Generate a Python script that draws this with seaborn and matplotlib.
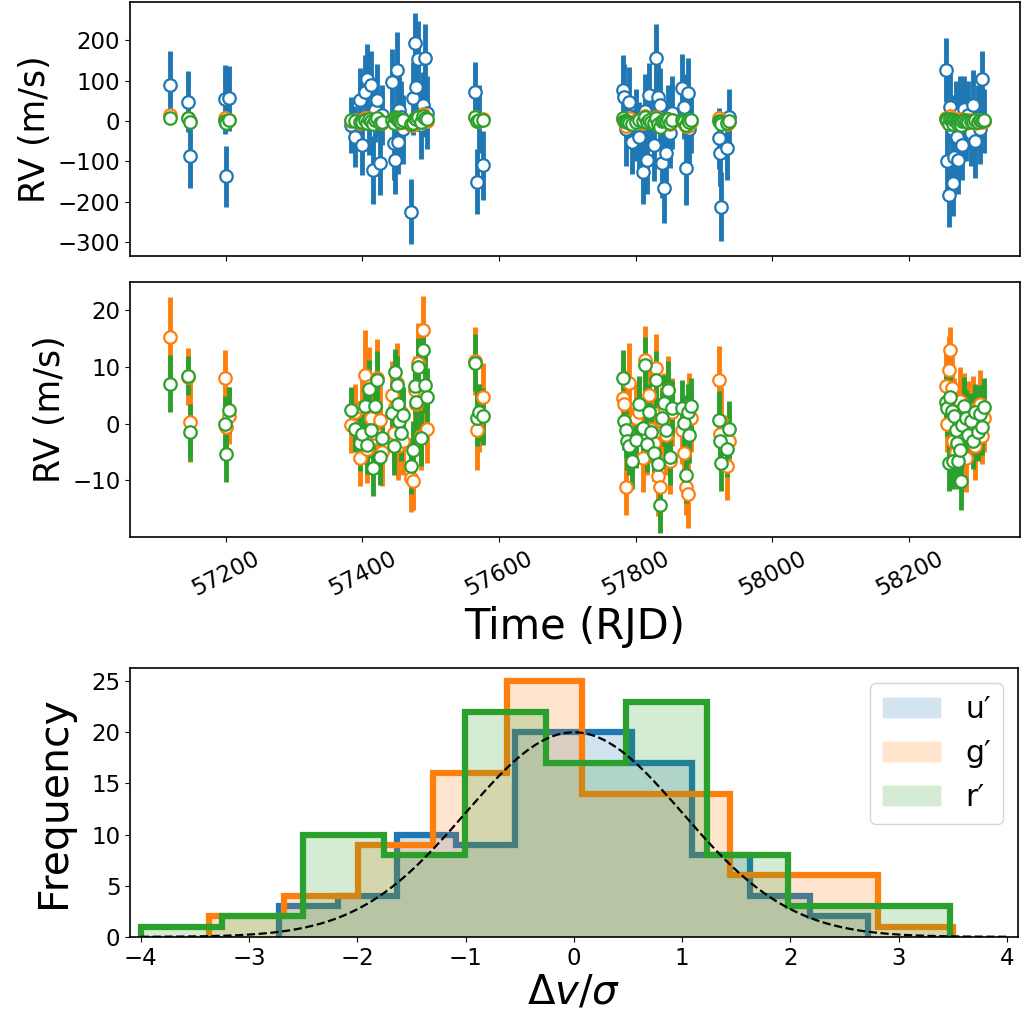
import numpy as np
import pandas as pd
import matplotlib
matplotlib.use("Agg")
import matplotlib.pyplot as plt
from matplotlib.patches import Patch
import seaborn as sns

# ---- RV time series (RJD) ----
rjd = [57118, 57145, 57148, 57199, 57201, 57205,
       57383, 57389, 57397, 57400, 57404, 57406, 57409, 57412, 57416, 57419, 57422, 57425, 57428,
       57444, 57446, 57448, 57450, 57452, 57454, 57456, 57459,
       57471, 57474, 57477, 57479, 57482, 57485, 57488, 57491, 57495,
       57564, 57567, 57570, 57576,
       57781, 57783, 57785, 57787, 57790, 57795, 57800, 57805, 57810, 57813, 57816, 57819, 57822,
       57826, 57829, 57832, 57835, 57838, 57841, 57844, 57847, 57850, 57853,
       57868, 57871, 57874, 57876, 57878, 57881,
       57921, 57923, 57925, 57934, 57937,
       58254, 58256, 58258, 58260, 58262, 58264, 58266, 58268, 58270, 58272, 58274, 58276,
       58278, 58280, 58283, 58286, 58290, 58293, 58296, 58300, 58303, 58306, 58310]

rv_u = [89, 48, -86, 54, -137, 56,
        -10, -39, 52, -59, 72, 105, -5, 89, -121, 27, 52, -104, 15,
        97, -55, -96, 126, -51, 27, 10, -20,
        -224, 56, 192, 83, 152, -10, 40, 155, 20,
        72, -150, 5, -109,
        77, 60, -20, 10, 48, -51, -10, -39, -125, 25, -96, 64, 5,
        -59, 155, 60, 40, -104, -166, -80, 10, -30, 20,
        81, 35, -117, 70, -20, 0,
        -43, -80, -212, -66, 10,
        126, -100, -183, 35, -20, -154, -88, 10, -39, -96, 20, 5,
        -60, 30, -10, 15, -30, 40, -50, 8, -20, 104, 0]

rv_g = [15.4, 8.3, 0.3, 8.0, -0.5, 1.4,
        -0.2, 2.0, -6.0, 3.0, 8.6, -4.5, 6.6, 1.0, -2.5, -1.6, 8.0, 0.7, -5.0,
        5.1, -1.6, 3.0, 7.2, -4.0, 0.5, 2.0, -3.0,
        -9.6, -10.2, 6.0, 3.5, 10.7, -2.2, 16.6, 5.0, -1.0,
        11.1, -1.1, 1.0, 4.8,
        4.5, 3.4, -11.1, 0.5, 7.2, -3.0, 1.0, 2.0, -6.0, 11.3, -2.0, 5.0, -1.0,
        -3.4, 9.8, -9.3, -11.1, 0.5, 3.0, -2.0, 6.0, -6.5, 2.0,
        -1.1, -5.2, -11.1, -12.5, 3.0, 1.0,
        7.8, -1.9, 0.5, -7.5, -3.0,
        6.6, -0.0, 9.5, 13.0, 6.3, -3.0, 2.0, -5.0, 1.0, -1.5, 4.0, 0.0,
        -2.0, 3.0, -6.0, 1.5, -1.0, 2.5, -4.0, 0.5, 3.5, -2.2, 1.0]

rv_r = [7.1, 8.5, -1.5, -0.1, -5.3, 2.4,
        2.5, -1.0, -3.4, -1.9, 3.1, -3.8, 6.2, -1.1, -7.8, 3.2, 7.8, -5.8, -2.5,
        1.9, -4.0, 9.2, 6.9, 3.4, 0.4, -1.6, 1.5,
        -7.5, -4.6, 6.6, 3.9, 10.1, -2.5, 13.0, 6.9, 4.8,
        10.8, 1.0, 2.0, 1.3,
        8.1, 0.4, -1.1, -3.1, -4.0, -6.6, -2.8, 3.4, -0.8, 10.4, -3.5, 2.0, -1.5,
        -5.2, 7.8, -7.2, -14.3, 1.0, 3.6, -1.1, 6.0, -5.8, 2.8,
        2.8, 0.1, -9.0, 2.0, -2.0, 3.1,
        0.7, -3.1, -6.9, -4.5, -1.0,
        3.9, 2.8, -6.9, 4.8, 2.2, -6.6, 1.3, -1.1, -3.4, -6.6, -4.6, -10.2,
        -0.2, 3.2, 1.0, -2.0, 0.5, -3.0, 2.0, -1.5, 1.8, -0.5, 3.0]

err_u = [85, 75, 80, 85, 75, 80,
         70, 75, 80, 75, 90, 85, 80, 85, 85, 80, 90, 80, 75,
         80, 90, 85, 95, 80, 85, 90, 85,
         80, 90, 75, 90, 95, 85, 80, 85, 90,
         75, 80, 85, 85,
         85, 80, 90, 75, 85, 80, 90, 85, 80, 90, 85, 80, 75,
         90, 85, 80, 90, 85, 85, 90, 80, 85, 90,
         85, 80, 90, 85, 90, 80,
         75, 80, 85, 80, 70,
         80, 85, 80, 90, 85, 80, 85, 90, 80, 85, 90, 80,
         85, 80, 90, 85, 80, 85, 90, 80, 85, 70, 80]

err_g = [7, 5, 7, 5, 5, 5,
         5, 5, 5, 5, 8, 6, 7, 6, 7, 6, 7, 6, 6,
         6, 6, 5, 7, 6, 6, 5, 6,
         6, 5, 6, 6, 7, 6, 6, 7, 6,
         6, 7, 6, 6,
         6, 6, 5, 6, 7, 6, 6, 6, 6, 6, 7, 6, 6,
         6, 6, 7, 6, 6, 6, 7, 6, 6, 6,
         6, 6, 5, 6, 6, 6,
         6, 6, 6, 6, 5,
         6, 5, 6, 4, 6, 6, 6, 6, 6, 6, 6, 5,
         6, 6, 6, 6, 5, 6, 6, 6, 6, 5, 6]

err_r = [5, 3.5, 5, 5, 5, 4,
         4, 4, 5, 4, 5, 5, 5, 5, 5, 4, 5, 5, 4,
         4, 5, 4, 5, 5, 4, 5, 5,
         5, 5, 5, 5, 5, 5, 4, 5, 5,
         5, 5, 5, 5,
         5, 5, 5, 5, 5, 5, 5, 5, 5, 5, 5, 5, 5,
         5, 5, 5, 5, 5, 5, 5, 5, 5, 5,
         5, 5, 5, 5, 5, 5,
         5, 5, 5, 5, 5,
         5, 5, 5, 5, 5, 5, 5, 5, 5, 5, 5, 5,
         5, 5, 5, 5, 5, 5, 5, 5, 5, 5, 5]

# ---- histograms of normalised residuals ----
u_edges = [-2.72, -2.18, -1.63, -1.09, -0.54, 0.0, 0.54, 1.09, 1.63, 2.18, 2.72]
u_counts = [3, 4, 10, 9, 20, 20, 17, 8, 4, 2]
g_edges = [-3.37, -2.68, -1.99, -1.30, -0.62, 0.07, 0.75, 1.44, 2.13, 2.81, 3.50]
g_counts = [2, 4, 9, 16, 25, 14, 14, 6, 6, 1]
r_edges = [-4.00, -3.25, -2.50, -1.75, -1.01, -0.26, 0.48, 1.23, 1.98, 2.72, 3.47]
r_counts = [1, 2, 10, 8, 22, 17, 23, 8, 3, 3]
gauss_peak = 20

band_labels = ["u\u2032", "g\u2032", "r\u2032"]

df = pd.DataFrame({"rjd": rjd, "u": rv_u, "g": rv_g, "r": rv_r,
                   "eu": err_u, "eg": err_g, "er": err_r})

sns.set_style("ticks")
plt.rcParams["font.family"] = ["DejaVu Sans"]
plt.rcParams.update({"text.color": "black", "axes.labelcolor": "black",
                     "xtick.color": "black", "ytick.color": "black",
                     "axes.edgecolor": "black", "axes.linewidth": 1.2})
pal = sns.color_palette("tab10")
c_u, c_g, c_r = pal[0], pal[1], pal[2]

fig = plt.figure(figsize=(10.24, 10.15), dpi=100)
ax1 = fig.add_axes([0.127, 0.748, 0.869, 0.250])
ax2 = fig.add_axes([0.127, 0.471, 0.869, 0.251], sharex=ax1)
ax3 = fig.add_axes([0.127, 0.077, 0.867, 0.265])

mk = dict(fmt="o", ms=9, mfc="white", mew=1.6, elinewidth=3.5, capsize=0)

# top: all three bands
ax1.errorbar(df["rjd"], df["u"], yerr=df["eu"], color=c_u, mec=c_u, **mk)
ax1.errorbar(df["rjd"], df["g"], yerr=df["eg"], color=c_g, mec=c_g, **mk)
ax1.errorbar(df["rjd"], df["r"], yerr=df["er"], color=c_r, mec=c_r, **mk)
ax1.set_ylim(-333, 294)
ax1.set_yticks([-300, -200, -100, 0, 100, 200])
ax1.set_ylabel("RV (m/s)", fontsize=25)
ax1.tick_params(labelbottom=False, labelsize=16.5)

# middle: g' and r' only
ax2.errorbar(df["rjd"], df["g"], yerr=df["eg"], color=c_g, mec=c_g, **mk)
ax2.errorbar(df["rjd"], df["r"], yerr=df["er"], color=c_r, mec=c_r, **mk)
ax2.set_ylim(-20, 25)
ax2.set_yticks([-10, 0, 10, 20])
ax2.set_xlim(57060, 58362)
ax2.set_xticks([57200, 57400, 57600, 57800, 58000, 58200])
ax2.set_ylabel("RV (m/s)", fontsize=25)
ax2.set_xlabel("Time (RJD)", fontsize=30)
ax2.tick_params(labelsize=16.5)
plt.setp(ax2.get_xticklabels(), rotation=27)

# bottom: histograms (fill via seaborn, thick outline on top)
hists = [(u_edges, u_counts, c_u), (g_edges, g_counts, c_g), (r_edges, r_counts, c_r)]
for edges, counts, col in hists:
    mids = [0.5 * (a + b) for a, b in zip(edges[:-1], edges[1:])]
    hd = pd.DataFrame({"x": mids, "w": counts})
    sns.histplot(data=hd, x="x", weights="w", bins=list(edges), element="step", fill=True,
                 alpha=0.2, linewidth=0, color=col, ax=ax3)
    ax3.stairs(counts, edges, color=col, lw=4.5, baseline=0)

xg = np.linspace(-4, 4, 300)
ax3.plot(xg, gauss_peak * np.exp(-0.5 * xg ** 2), "k--", lw=1.6)
ax3.set_xlim(-4.1, 4.1)
ax3.set_ylim(0, 26.3)
ax3.set_xticks(range(-4, 5))
ax3.set_yticks([0, 5, 10, 15, 20, 25])
ax3.set_xlabel(r"$\Delta v/\sigma$", fontsize=29, labelpad=2)
ax3.set_ylabel("Frequency", fontsize=29.5, labelpad=12)
ax3.tick_params(labelsize=16.5)
handles = [Patch(facecolor=c, alpha=0.2) for c in (c_u, c_g, c_r)]
ax3.legend(handles, band_labels, loc="upper right", fontsize=21.5)

fig.savefig("out.png", dpi=100)
